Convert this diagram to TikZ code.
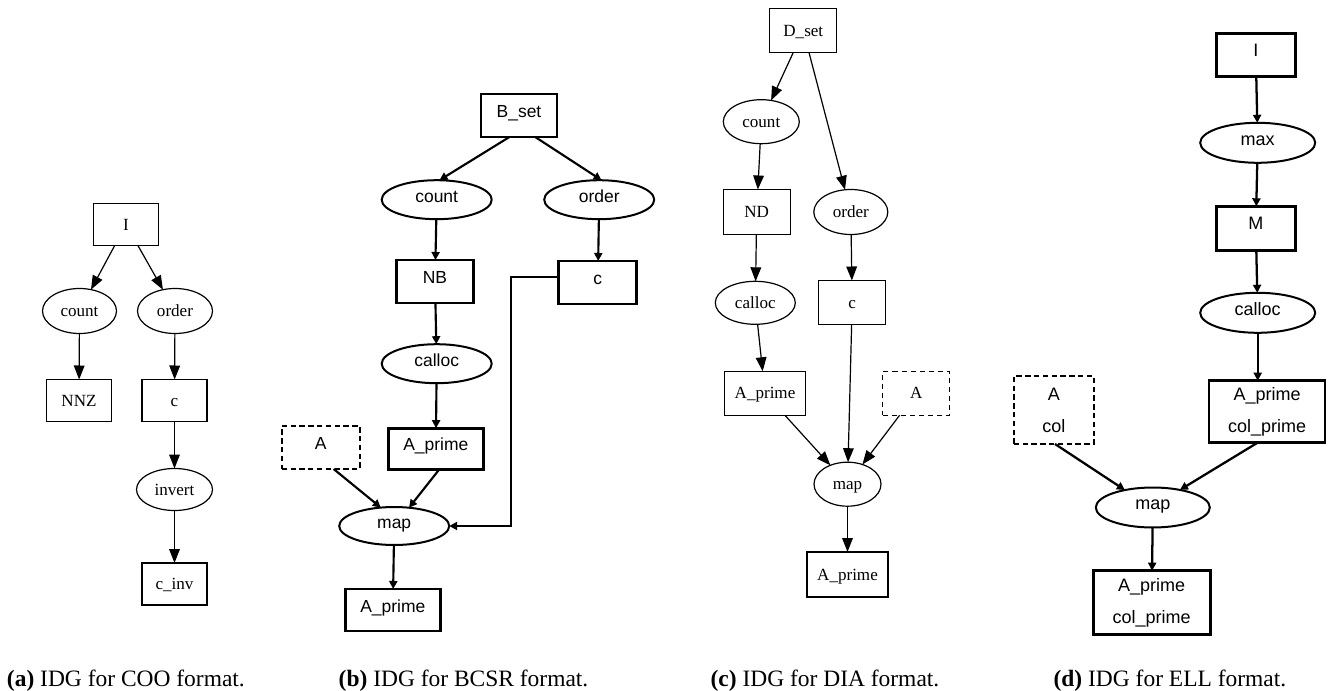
\documentclass[tikz,border=0pt]{standalone}
\usepackage{fontspec}
\setmainfont{Liberation Serif}
\newfontfamily\arialf{Liberation Sans}
\newfontfamily\timesf{Liberation Serif}
\usetikzlibrary{shapes.geometric,arrows.meta}

\begin{document}
\begin{tikzpicture}[x=0.75pt,y=-0.75pt,
  every node/.style={inner sep=0pt, outer sep=0pt},
  sz/.style 2 args={minimum width=#1*0.75pt, minimum height=#2*0.75pt},
  % serif graphs (COO, DIA)
  tnode/.style={font=\timesf\fontsize{12.8}{15}\selectfont, draw, line width=0.9pt,
                text height=8.4pt, text depth=0pt},
  tbox/.style={tnode, rectangle},
  tell/.style={tnode, ellipse},
  tdash/.style={tbox, dash pattern=on 3.8pt off 3pt},
  tedge/.style={line width=0.9pt, -{Triangle[length=10.5pt,width=8pt]}},
  % sans graphs (BCSR, ELL)
  abox/.style={font=\arialf\fontsize{13.1}{15}\selectfont, draw, rectangle,
               line width=2.2pt, text height=3pt, text depth=0pt},
  aell/.style={font=\arialf\fontsize{13.1}{15}\selectfont, draw, ellipse,
               line width=1.5pt, text height=3.5pt, text depth=0pt},
  adash/.style={abox, line width=1.7pt, dash pattern=on 4pt off 2.6pt},
  aedge/.style={line width=1.6pt, -{Triangle[length=6pt,width=6pt]}},
  dbox/.style={abox, font=\arialf\fontsize{13.5}{15}\selectfont, text height=2pt},
  dell/.style={aell, font=\arialf\fontsize{13.5}{15}\selectfont},
  dtwo/.style={font=\arialf\fontsize{13.5}{24}\selectfont, draw, rectangle,
               line width=2.2pt, align=center},
  ddash/.style={dtwo, line width=1.7pt, dash pattern=on 4pt off 2.6pt},
  dedge/.style={line width=1.7pt, -{Triangle[length=6pt,width=6pt]}},
  captext/.style={anchor=base west, font=\timesf\fontsize{17.6}{20}\selectfont}
]
\useasboundingbox (0,0) rectangle (1334,691);

% ---------- (a) COO ----------
\node[tbox, sz={65}{42}] (Ia)     at (126,224.5) {I};
\node[tell, sz={74}{45}] (counta) at (79.5,311)  {count};
\node[tell, sz={75}{45}] (ordera) at (175,311)   {order};
\node[tbox, sz={65}{42}] (NNZ)    at (79,400.5)  {NNZ};
\node[tbox, sz={65}{42}] (ca)     at (174.5,400.5) {c};
\node[tell, sz={76}{42}] (invert) at (174.5,489.5) {invert};
\node[tbox, sz={65}{42}] (cinv)   at (174.5,584) {c\_inv};

\draw[tedge] (Ia) -- (counta);
\draw[tedge] (Ia) -- (ordera);
\draw[tedge] (counta) -- (NNZ);
\draw[tedge] (ordera) -- (ca);
\draw[tedge] (ca) -- (invert);
\draw[tedge] (invert) -- (cinv);

% ---------- (b) BCSR ----------
\node[abox, sz={76}{43}]  (bset)    at (519,115.5)   {B\_set};
\node[aell, sz={110}{39}] (countb)  at (436.7,199.7) {count};
\node[aell, sz={110}{39}] (orderb)  at (599.2,199.7) {order};
\node[abox, sz={77}{43}]  (NB)      at (435,281.5)   {NB};
\node[abox, sz={78}{43}]  (cb)      at (597.8,282.5) {c};
\node[aell, sz={110}{39}] (callocb) at (436.7,363.7) {calloc};
\node[abox, sz={95}{41}]  (Aprb)    at (435.8,448.7) {A\_prime};
\node[adash, sz={78}{43}] (Ab)      at (320.7,447.5) {A};
\node[aell, sz={110}{38}] (mapb)    at (394.2,526)   {map};
\node[abox, sz={95}{42}]  (Apr2b)   at (392.8,610)   {A\_prime};
\coordinate (elbow) at (510.7,400);

\draw[aedge] (bset.-114) -- (countb.82);
\draw[aedge] (bset.-53) -- (orderb.83);
\draw[aedge] (countb) -- (NB);
\draw[aedge] (orderb) -- (cb);
\draw[aedge] (NB) -- (callocb);
\draw[aedge] (callocb) -- (Aprb);
\draw[aedge] (Ab.-59) -- (mapb.126);
\draw[aedge] (Aprb.-80) -- (mapb.51);
\draw[aedge] (mapb) -- (Apr2b);
\draw[aedge] (cb.172) -| (elbow) |- (mapb.east);

% ---------- (c) DIA ----------
\node[tbox, sz={67}{44}] (Dset)    at (803.3,30.8)  {D\_set};
\node[tell, sz={76}{44}] (countc)  at (761.3,121.7) {count};
\node[tbox, sz={67}{45}] (ND)      at (756.7,212)   {ND};
\node[tell, sz={74}{45}] (orderc)  at (850.8,212)   {order};
\node[tell, sz={80}{43}] (callocc) at (755.3,302.8) {calloc};
\node[tbox, sz={67}{44}] (cc)      at (852.2,302.5) {c};
\node[tbox, sz={81}{44}] (Aprc)    at (765,393.3)   {A\_prime};
\node[tdash, sz={67}{44}] (Ac)     at (916.2,393.3) {A};
\node[tell, sz={67}{44}] (mapc)    at (847.5,484.2) {map};
\node[tbox, sz={81}{45}] (Apr2c)   at (847.5,574.5) {A\_prime};

\draw[tedge] (Dset) -- (countc);
\draw[tedge] (Dset) -- (orderc);
\draw[tedge] (countc) -- (ND);
\draw[tedge] (ND) -- (callocc);
\draw[tedge] (orderc) -- (cc);
\draw[tedge] (callocc) -- (Aprc);
\draw[tedge] (cc) -- (mapc);
\draw[tedge] (Aprc) -- (mapc);
\draw[tedge] (Ac) -- (mapc);
\draw[tedge] (mapc) -- (Apr2c);

% ---------- (d) ELL ----------
\node[dbox, sz={79}{43}]  (Id)      at (1255.8,55.2)  {I};
\node[dell, sz={115}{40}] (maxd)    at (1257.7,142.8) {max};
\node[dbox, sz={79}{44}]  (Md)      at (1255.8,228.3) {M};
\node[dell, sz={115}{40}] (callocd) at (1257.7,312.8) {calloc};
\node[dtwo, sz={116}{62}] (Aprd)    at (1267,411.7)   {A\_prime\\col\_prime};
\node[ddash, sz={80}{68}] (Acol)    at (1053.8,410)   {A\\col};
\node[dell, sz={114}{40}] (mapd)    at (1152.8,507.5) {map};
\node[dtwo, sz={117}{64}] (Apr2d)   at (1151.7,602.7) {A\_prime\\col\_prime};

\draw[dedge] (Id) -- (maxd);
\draw[dedge] (maxd) -- (Md);
\draw[dedge] (Md) -- (callocd);
\draw[dedge] (callocd) -- (Aprd.north -| callocd);
\draw[dedge] (Acol.-88) -- (mapd.148);
\draw[dedge] (Aprd.-107) -- (mapd.33);
\draw[dedge] (mapd) -- (Apr2d);

% ---------- captions ----------
\node[captext] (capa) at (7,686)      {\textbf{(a)} IDG for COO format.};
\node[captext] (capb) at (338.7,686)  {\textbf{(b)} IDG for BCSR format.};
\node[captext] (capc) at (710.6,686)  {\textbf{(c)} IDG for DIA format.};
\node[captext] (capd) at (1053.6,686) {\textbf{(d)} IDG for ELL format.};
\end{tikzpicture}
\end{document}
